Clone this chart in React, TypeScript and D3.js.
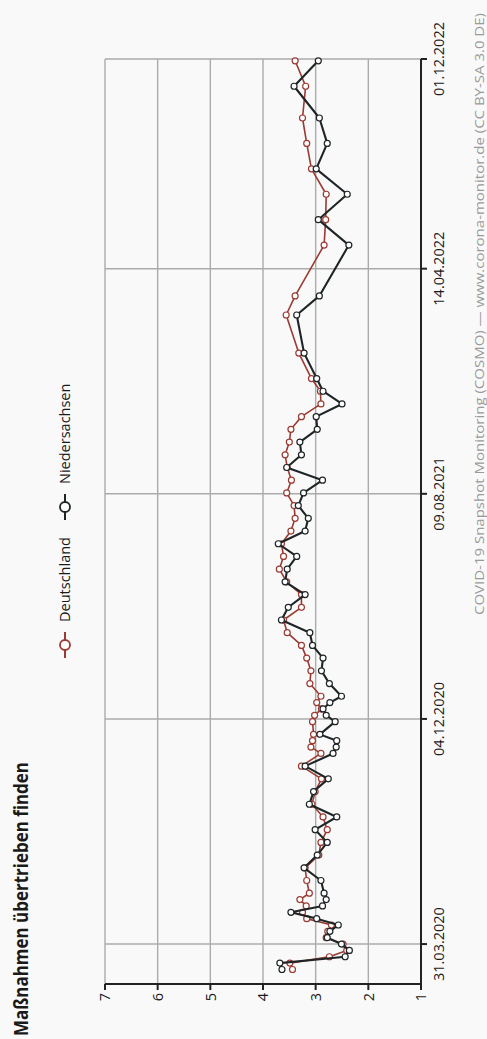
import React from 'react';
import * as d3 from 'd3';

// Survey wave dates (COSMO)
const dates: string[] = [
  "2020-03-03","2020-03-10","2020-03-17","2020-03-24","2020-03-31","2020-04-07","2020-04-14",
  "2020-04-21","2020-04-28","2020-05-05","2020-05-12","2020-05-19","2020-05-26","2020-06-09",
  "2020-06-23","2020-07-07","2020-07-21","2020-08-04","2020-08-18","2020-09-01","2020-09-15",
  "2020-09-29","2020-10-13","2020-10-27","2020-11-03","2020-11-10","2020-11-17","2020-12-01",
  "2020-12-08","2020-12-15","2020-12-22","2020-12-29","2021-01-12","2021-01-26","2021-02-09",
  "2021-02-23","2021-03-09","2021-03-23","2021-04-06","2021-04-20","2021-05-04","2021-05-18",
  "2021-06-01","2021-06-15","2021-06-29","2021-07-13","2021-07-27","2021-08-10","2021-08-24",
  "2021-09-07","2021-09-21","2021-10-05","2021-10-19","2021-11-02","2021-11-16","2021-11-30",
  "2021-12-14","2022-01-11","2022-02-22","2022-03-15","2022-05-10","2022-06-07","2022-07-05",
  "2022-08-02","2022-08-30","2022-09-27","2022-11-01","2022-11-29"
];

const deutschland: number[] = [
  3.44,3.49,2.74,2.41,2.48,2.80,2.77,
  2.70,3.17,3.25,3.18,3.30,3.12,3.17,
  3.20,2.94,2.90,2.78,2.86,3.07,3.01,
  2.89,3.27,2.90,3.09,3.06,3.04,3.06,
  3.02,2.89,2.98,2.90,3.11,3.09,3.17,
  3.27,3.54,3.61,3.27,3.27,3.55,3.69,
  3.61,3.65,3.47,3.39,3.41,3.55,3.46,
  3.54,3.58,3.50,3.47,3.27,2.90,2.91,
  3.08,3.32,3.56,3.39,2.84,2.81,2.80,
  3.08,3.17,3.25,3.19,3.39
];

const niedersachsen: number[] = [
  3.64,3.68,2.44,2.36,2.51,2.78,2.73,
  2.57,2.98,3.47,2.87,2.80,2.84,2.90,
  3.22,2.97,2.78,3.01,2.60,3.12,3.04,
  2.76,3.20,2.67,2.61,2.60,2.92,2.63,
  2.80,2.86,2.73,2.51,2.74,2.89,2.86,
  3.06,3.11,3.65,3.52,3.20,3.58,3.54,
  3.36,3.71,3.20,3.14,3.33,3.23,2.87,
  3.55,3.27,3.30,2.97,2.99,2.50,2.86,
  2.98,3.22,3.36,2.93,2.37,2.95,2.40,
  2.99,2.78,2.93,3.41,2.95
];

const tickDates: string[] = ["2020-03-31", "2020-12-04", "2021-08-09", "2022-04-14", "2022-12-01"];
const axisExtent: string[] = ["2020-02-16", "2022-12-01"];
const valueTicks: number[] = [1, 2, 3, 4, 5, 6, 7];
const seriesNames: string[] = ["Deutschland", "Niedersachsen"];
const seriesColors: string[] = ["#9a3b33", "#1f2527"];
const titleText = "Maßnahmen übertrieben finden";
const sourceText = "COVID-19 Snapshot Monitoring (COSMO) — www.corona-monitor.de (CC BY-SA 3.0 DE)";

export default function App() {
  const PW = 487;
  const PH = 1039;
  // Unrotated frame: width PH, height PW
  const left = 55, right = 980, top = 105, bottom = 421;
  const parse = d3.utcParse("%Y-%m-%d");
  const fmt = d3.utcFormat("%d.%m.%Y");
  const x = d3.scaleUtc()
    .domain([parse(axisExtent[0]) as Date, parse(axisExtent[1]) as Date])
    .range([left, right]);
  const y = d3.scaleLinear().domain([1, 7]).range([bottom, top]);

  const parsedDates = dates.map((d) => parse(d) as Date);
  const series = [deutschland, niedersachsen].map((vals) =>
    vals.map((v, i) => [parsedDates[i], v] as [Date, number])
  );
  const line = d3.line<[Date, number]>()
    .x((d) => x(d[0]))
    .y((d) => y(d[1]));

  const font = "'Open Sans', 'DejaVu Sans', sans-serif";
  const gridColor = "#ababab";
  const axisColor = "#222";
  const legendItems = [
    { lx: 394, tx: 417 },
    { lx: 532, tx: 555 },
  ];

  return (
    <svg
      width={PW}
      height={PH}
      style={{ position: 'absolute', left: 0, top: 0 }}
      xmlns="http://www.w3.org/2000/svg"
    >
      <rect x={0} y={0} width={PW} height={PH} fill="#f9f9f9" />
      <g transform={`translate(0,${PH}) rotate(-90)`} fontFamily={font}>
        {/* title */}
        <text x={3} y={28} fontSize={19.5} fontWeight="bold" fill="#1a1a1a" textLength={274} lengthAdjust="spacingAndGlyphs">
          {titleText}
        </text>

        {/* legend */}
        {seriesNames.map((name, i) => (
          <g key={name}>
            <line x1={legendItems[i].lx - 13} x2={legendItems[i].lx + 13} y1={65} y2={65}
              stroke={seriesColors[i]} strokeWidth={2} />
            <circle cx={legendItems[i].lx} cy={65} r={5} fill="#fff" stroke={seriesColors[i]} strokeWidth={1.8} />
            <text x={legendItems[i].tx} y={70} fontSize={14.5} fill="#1a1a1a">{name}</text>
          </g>
        ))}

        {/* horizontal grid */}
        {valueTicks.map((v) => (
          <line key={`h${v}`} x1={left} x2={right} y1={y(v)} y2={y(v)} stroke={gridColor} strokeWidth={1.4} />
        ))}
        {/* vertical grid */}
        {tickDates.map((d) => {
          const xx = x(parse(d) as Date);
          return <line key={`v${d}`} x1={xx} x2={xx} y1={top} y2={bottom} stroke={gridColor} strokeWidth={1.4} />;
        })}

        {/* axes */}
        <line x1={left} x2={left} y1={top} y2={bottom} stroke={axisColor} strokeWidth={2} />
        <line x1={left} x2={right} y1={bottom} y2={bottom} stroke={axisColor} strokeWidth={2} />
        {valueTicks.map((v) => (
          <g key={`vt${v}`}>
            <line x1={left - 6} x2={left} y1={y(v)} y2={y(v)} stroke={axisColor} strokeWidth={2} />
            <text x={46} y={y(v)} dy="0.36em" textAnchor="end" fontSize={14.5} fill="#1a1a1a">{v}</text>
          </g>
        ))}
        {tickDates.map((d) => {
          const xx = x(parse(d) as Date);
          return (
            <g key={`dt${d}`}>
              <line x1={xx} x2={xx} y1={bottom} y2={bottom + 6} stroke={axisColor} strokeWidth={2} />
              <text x={xx} y={444} textAnchor="middle" fontSize={14.5} fill="#1a1a1a">{fmt(parse(d) as Date)}</text>
            </g>
          );
        })}

        {/* series */}
        {series.map((s, i) => (
          <g key={`s${i}`}>
            <path d={line(s) || ''} fill="none" stroke={seriesColors[i]} strokeWidth={i === 0 ? 1.6 : 2.1} strokeLinejoin="round" />
            {s.map((p, j) => (
              <circle key={j} cx={x(p[0])} cy={y(p[1])} r={3} fill="#fff" stroke={seriesColors[i]} strokeWidth={1.2} />
            ))}
          </g>
        ))}

        {/* source */}
        <text x={424} y={484} fontSize={13.5} fill="#9a9a9a" textLength={602} lengthAdjust="spacingAndGlyphs">
          {sourceText}
        </text>
      </g>
    </svg>
  );
}
